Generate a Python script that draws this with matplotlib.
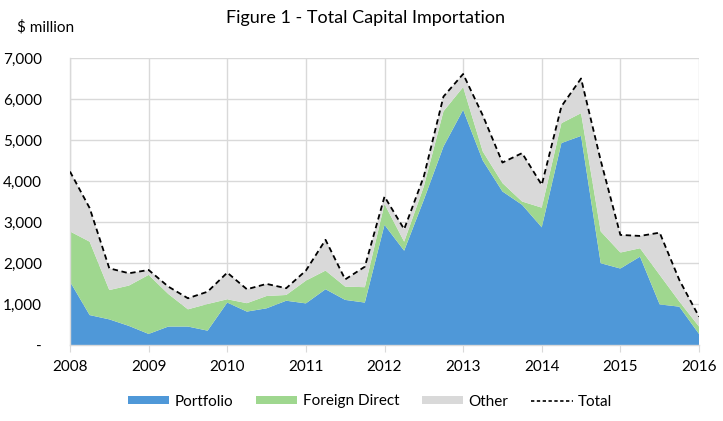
import numpy as np
import matplotlib
matplotlib.use("Agg")
import matplotlib.pyplot as plt
from matplotlib.patches import Patch
from matplotlib.lines import Line2D

plt.rcParams['font.family'] = ['Lato', 'DejaVu Sans']

# Quarterly data, 2008Q1 .. 2016Q1 ($ million)
quarters = [f"{y}Q{q}" for y in range(2008, 2016) for q in range(1, 5)] + ["2016Q1"]
portfolio = [1545, 730, 625, 465, 270, 450, 450, 350, 1035, 815, 895, 1080, 1015, 1360, 1100, 1035,
             2930, 2300, 3540, 4840, 5735, 4500, 3745, 3420, 2870, 4925, 5100, 1995, 1865, 2155, 990, 935, 270]
foreign_direct = [1225, 1790, 715, 985, 1440, 795, 420, 650, 80, 205, 300, 140, 555, 455, 325, 375,
                  510, 220, 325, 860, 555, 220, 205, 80, 480, 485, 555, 775, 390, 205, 720, 125, 180]
other = [1460, 820, 530, 300, 120, 180, 270, 300, 650, 340, 295, 165, 245, 750, 175, 500,
         180, 305, 245, 360, 320, 880, 500, 1180, 555, 410, 845, 1730, 430, 300, 1030, 525, 240]
year_ticks = [2008, 2009, 2010, 2011, 2012, 2013, 2014, 2015, 2016]
y_ticks = [0, 1000, 2000, 3000, 4000, 5000, 6000, 7000]
y_labels = ["-", "1,000", "2,000", "3,000", "4,000", "5,000", "6,000", "7,000"]

x = 2008 + np.arange(len(quarters)) / 4.0
total = np.array(portfolio) + np.array(foreign_direct) + np.array(other)

c_blue = "#4F98D8"
c_green = "#9FD78F"
c_grey = "#D9D9D9"

fig = plt.figure(figsize=(7.23, 4.21), dpi=100)
ax = fig.add_axes([70/723, 1-345/421, 629/723, 287/421])

ax.stackplot(x, portfolio, foreign_direct, other, colors=[c_blue, c_green, c_grey],
             linewidth=0, zorder=2)
ax.plot(x, total, color="black", linewidth=1.3, linestyle=(0, (3, 2)), zorder=3)

ax.set_xlim(2008, 2016)
ax.set_ylim(0, 7000)
ax.set_xticks(year_ticks)
ax.set_xticklabels([str(v) for v in year_ticks])
ax.set_yticks(y_ticks)
ax.set_yticklabels(y_labels)
ax.grid(True, color="#D9D9D9", linewidth=1.0, zorder=0)
ax.set_axisbelow(True)
for s in ["top", "right"]:
    ax.spines[s].set_visible(False)
for s in ["left", "bottom"]:
    ax.spines[s].set_color("#D9D9D9")
    ax.spines[s].set_linewidth(1.0)
ax.tick_params(axis="y", length=0, pad=20, labelsize=11)
ax.tick_params(axis="x", length=5, color="#D9D9D9", pad=6, labelsize=11)

fig.text(366/723, 1-18/421, "Figure 1 - Total Capital Importation", ha="center", va="center",
         fontsize=13)
fig.text(17/723, 1-27/421, "$ million", ha="left", va="center", fontsize=11)

handles = [Patch(facecolor=c_blue, edgecolor="none", label="Portfolio"),
           Patch(facecolor=c_green, edgecolor="none", label="Foreign Direct"),
           Patch(facecolor=c_grey, edgecolor="none", label="Other"),
           Line2D([0], [0], color="black", linewidth=1.2, linestyle=(0, (2, 1.5)), label="Total")]
fig.legend(handles=handles, loc="center", bbox_to_anchor=(370/723, 1-401.5/421), ncol=4,
           frameon=False, fontsize=11, handlelength=2.7, handleheight=0.5,
           handletextpad=0.35, columnspacing=1.5)

fig.savefig("out.png", dpi=100)
